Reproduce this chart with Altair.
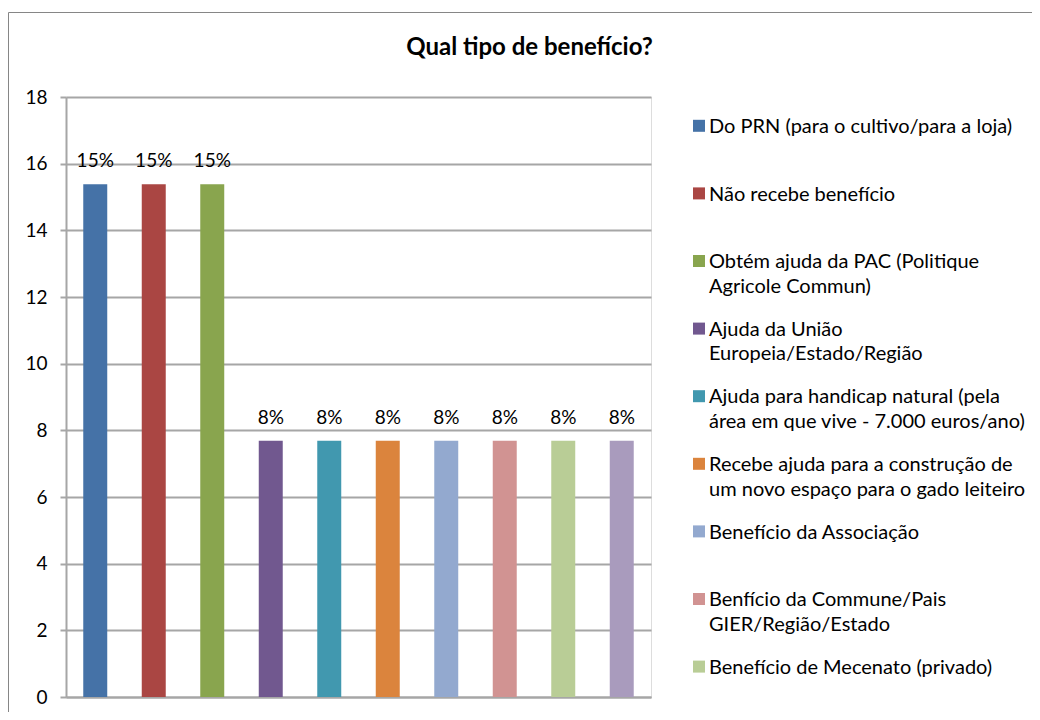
import altair as alt
import pandas as pd

# Categories ("|" marks the legend line break)
categories = [
    "Do PRN (para o cultivo/para a loja)|",
    "Não recebe benefício|",
    "Obtém ajuda da PAC (Politique|Agricole Commun)",
    "Ajuda da União|Europeia/Estado/Região",
    "Ajuda para handicap natural (pela|área em que vive - 7.000 euros/ano)",
    "Recebe ajuda para a construção de|um novo espaço para o gado leiteiro",
    "Benefício da Associação|",
    "Benfício da Commune/Pais|GIER/Região/Estado",
    "Benefício de Mecenato (privado)|",
    "Outro benefício|",
]
values = [15.38, 15.38, 15.38, 7.69, 7.69, 7.69, 7.69, 7.69, 7.69, 7.69]
labels = ["15%", "15%", "15%", "8%", "8%", "8%", "8%", "8%", "8%", "8%"]
colors = ["#4572A7", "#AA4643", "#89A54E", "#71588F", "#4198AF",
          "#DB843D", "#93A9CF", "#D19392", "#B9CD96", "#A99BBD"]
y_ticks = [0, 2, 4, 6, 8, 10, 12, 14, 16, 18]
visible_legend = categories[:9]

df = pd.DataFrame({"cat": categories, "value": values, "label": labels})

FONT = "Lato"
GRID = "#A6A6A6"

base = alt.Chart(df).encode(
    x=alt.X("cat:N", sort=categories,
            scale=alt.Scale(paddingInner=0.59, paddingOuter=0.295),
            axis=alt.Axis(labels=False, ticks=False, title=None, domain=True,
                          domainColor=GRID, domainWidth=2)),
)

bars = base.mark_bar().encode(
    y=alt.Y("value:Q", scale=alt.Scale(domain=[0, 18], nice=False),
            axis=alt.Axis(values=y_ticks, title=None, grid=True, gridColor=GRID,
                          gridWidth=2, domain=True, domainColor=GRID, domainWidth=2,
                          tickColor=GRID, tickWidth=2, tickSize=6,
                          labelFont=FONT, labelFontSize=19, labelColor="#000",
                          labelPadding=13)),
    color=alt.Color("cat:N", sort=categories,
                    scale=alt.Scale(domain=categories, range=colors),
                    legend=alt.Legend(
                        title=None, orient="none", legendX=623, legendY=26,
                        values=visible_legend,
                        symbolType="M-1,-2.2H1V-0.2H-1Z", symbolSize=144,
                        symbolStrokeWidth=0, symbolOpacity=1,
                        labelFont=FONT, labelFontSize=20, labelColor="#000",
                        labelLimit=400, labelOffset=0, labelBaseline="alphabetic",
                        labelExpr="split(datum.label, '|')",
                        rowPadding=22.6, padding=0)),
)

text = base.mark_text(font=FONT, fontSize=19, color="#000",
                      baseline="alphabetic", dy=-17).encode(
    y=alt.Y("value:Q"),
    text="label:N",
)

frame = alt.Chart(alt.Data(values=[{}])).mark_rect(
    filled=False, stroke="#868686", strokeWidth=1
).encode(
    x=alt.value(-57.5), x2=alt.value(1000), y=alt.value(-84.5), y2=alt.value(700)
)

chart = alt.layer(frame, bars, text).properties(
    width=585, height=600,
    padding={"left": 58, "top": 89, "right": 381, "bottom": 15},
    autosize=alt.AutoSizeParams(type="none"),
    title=alt.Title("Qual tipo de benefício?", font=FONT, fontSize=24,
                    fontWeight="bold", color="#000", anchor="middle",
                    baseline="alphabetic", offset=0, dy=67, dx=171),
).configure_view(stroke=None).configure(
    style={"guide-label": {"lineHeight": 24.5}}
)

chart.save("out.html", embed_options={"renderer": "svg", "actions": False})
